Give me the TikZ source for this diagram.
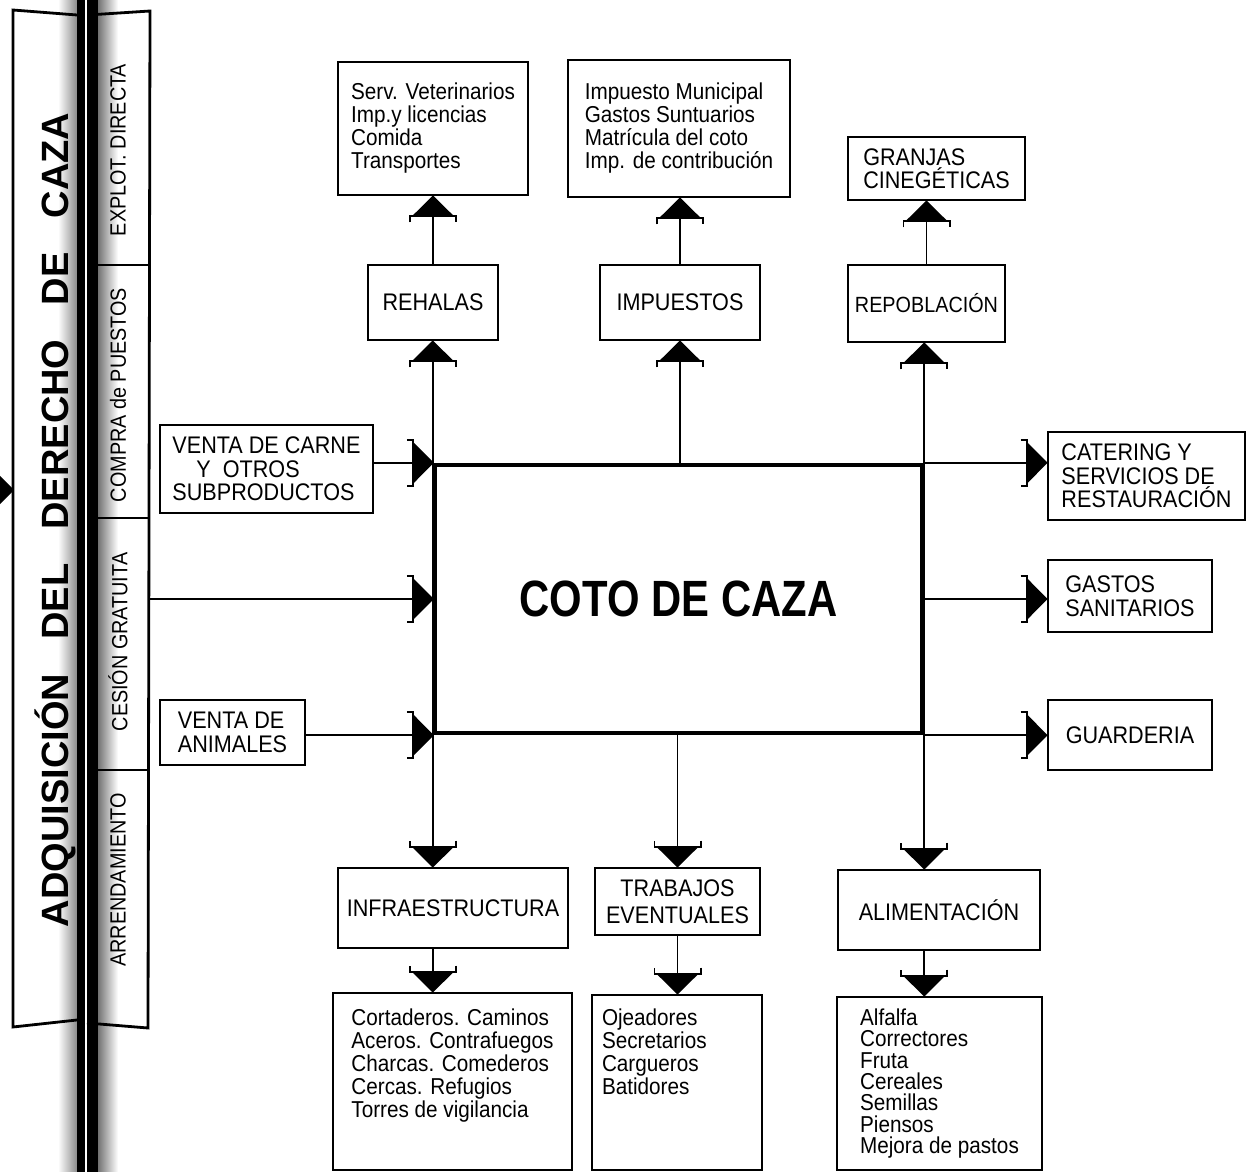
\documentclass[tikz,border=0pt]{standalone}
\usepackage{fontspec}
\setmainfont{Liberation Sans}[FakeStretch=0.9]
\newfontfamily\bannerfont{Liberation Sans}
\newfontfamily\cotofont{Liberation Sans}[FakeStretch=0.82]
\usepackage{tikz}
\usetikzlibrary{arrows.meta, positioning, calc}

\tikzset{
  wedge/.tip={Bracket[width=24pt,length=3pt] Triangle[width=20pt,length=10pt,sep=-0.5pt]},
  flow/.style={line width=0.9pt, -wedge},
  twoway/.style={line width=0.9pt, wedge-wedge},
  labelbox/.style={draw, line width=1.4pt, align=center, inner sep=2pt,
                   font=\fontsize{12}{11.75}\selectfont},
  listbox/.style={draw, line width=1.4pt, align=left, inner sep=2pt,
                  font=\fontsize{11.5}{11.5}\selectfont},
  section/.style={minimum width=30pt, inner sep=0pt,
                  font=\fontsize{11}{12}\selectfont}
}

\begin{document}
\begin{tikzpicture}[x=0.5pt, y=-0.5pt]
\useasboundingbox (0,0) rectangle (1255,1172);

% scanned bar on the left
\shade[left color=white, right color=black!45] (58,0) rectangle (77,1172);
\shade[left color=black!55, right color=white] (98,0) rectangle (118,1172);
\fill (77,0) rectangle (98,1172);
\draw[white, line width=0.6pt] (86,0) -- (86,1172);

% banner and column
\draw[line width=1.4pt] (77,15) -- (13,10) -- (13,1027) -- (77,1020);
\draw[line width=1.4pt] (88,15) -- (150,11) -- (148,1028) -- (87,1023);
\foreach \y in {265,518,770}
  \draw[line width=1.4pt] (88,\y) -- (149,\y);

\node (adq) at (55,520) {\rotatebox{90}{\bannerfont\bfseries\fontsize{19}{20}\selectfont
  ADQUISICIÓN\hspace{0.9em}DEL\hspace{0.9em}DERECHO\hspace{0.9em}DE\hspace{0.9em}CAZA}};
\node[section] (explot) at (118,150) {\rotatebox{90}{EXPLOT. DIRECTA}};
\node[section] (compra) at (118,395) {\rotatebox{90}{COMPRA de PUESTOS}};
\node[section] (cesion) at (118,642) {\rotatebox{90}{CESIÓN GRATUITA}};
\node[section] (arrend) at (118,880) {\rotatebox{90}{ARRENDAMIENTO}};
\coordinate (entry) at (-40,490);
\coordinate (bannerin) at (13,490);

% centre
\node[draw, line width=2.2pt, minimum width=243.5pt, minimum height=134pt,
      font=\cotofont\bfseries\fontsize{25.5}{28}\selectfont] (coto) at (678.5,599)
  {\raisebox{-10pt}{COTO DE CAZA}};

% top
\node[labelbox, minimum width=65pt, minimum height=37.5pt] (rehalas) at (433,302.5) {REHALAS};
\node[listbox, minimum width=95pt, minimum height=66.5pt] (vet) at (433,128.5)
  {Serv. Veterinarios\\Imp.y licencias\\Comida\\Transportes};
\node[labelbox, minimum width=80pt, minimum height=37.5pt] (impuestos) at (680,302.5) {IMPUESTOS};
\node[listbox, minimum width=111pt, minimum height=68.5pt] (tasas) at (679,128.5)
  {Impuesto Municipal\\Gastos Suntuarios\\Matrícula del coto\\Imp. de contribución};
\node[labelbox, minimum width=78.5pt, minimum height=38.5pt,
      font=\fontsize{11}{11.75}\selectfont] (repoblacion) at (926.5,303.5) {REPOBLACIÓN};
\node[labelbox, align=left, minimum width=88.5pt, minimum height=31.5pt] (granjas) at (936.5,168.5)
  {GRANJAS\\CINEGÉTICAS};

% left
\node[labelbox, align=left, minimum width=106.5pt, minimum height=44pt] (carne) at (266.5,469)
  {VENTA DE CARNE\\\hspace*{1em}Y\ \ OTROS\\SUBPRODUCTOS};
\node[labelbox, align=left, minimum width=72.5pt, minimum height=32.5pt] (animales) at (232.5,732.5)
  {VENTA DE\\ANIMALES};

% right
\node[labelbox, align=left, minimum width=98.5pt, minimum height=44pt] (catering) at (1146.5,476)
  {CATERING Y\\SERVICIOS DE\\RESTAURACIÓN};
\node[labelbox, align=left, minimum width=82pt, minimum height=36pt] (gastos) at (1130,596)
  {GASTOS\\SANITARIOS};
\node[labelbox, minimum width=82pt, minimum height=35pt] (guarderia) at (1130,735) {GUARDERIA};

% bottom
\node[labelbox, minimum width=115pt, minimum height=40pt] (infra) at (453,908) {INFRAESTRUCTURA};
\node[labelbox, minimum width=82.5pt, minimum height=33.5pt] (trabajos) at (677.5,901.5)
  {TRABAJOS\\[2pt]EVENTUALES};
\node[labelbox, minimum width=101pt, minimum height=40pt] (alimentacion) at (939,910) {ALIMENTACIÓN};

\node[listbox, minimum width=119.5pt, minimum height=88.5pt, text depth=18pt] (obras) at (452.5,1081.5)
  {Cortaderos. Caminos\\Aceros. Contrafuegos\\Charcas. Comederos\\Cercas. Refugios\\Torres de vigilancia};
\node[listbox, text width=75pt, inner xsep=5pt, minimum height=87.5pt, text depth=65pt] (personal) at (677,1082.5)
  {Ojeadores\\Secretarios\\Cargueros\\Batidores};
\node[listbox, minimum width=102.5pt, minimum height=86.5pt,
      font=\fontsize{11.5}{10.7}\selectfont] (piensos) at (939.5,1083.5)
  {Alfalfa\\Correctores\\Fruta\\Cereales\\Semillas\\Piensos\\Mejora de pastos};

% connectors
\draw[flow] (entry) -- (bannerin);
\draw[twoway] (coto.north west |- rehalas.south) -- (coto.north west |- infra.north);
\draw[twoway] (coto.north east |- repoblacion.south) -- (coto.north east |- alimentacion.north);
\draw[flow] (impuestos.south |- coto.north) -- (impuestos);
\draw[flow] (trabajos.north |- coto.south) -- (trabajos);
\draw[flow] (rehalas) -- (vet);
\draw[flow] (impuestos.north) -- (impuestos.north |- tasas.south);
\draw[flow] (repoblacion.north) -- (repoblacion.north |- granjas.south);
\draw[flow] (coto.south west |- infra.south) -- (coto.south west |- obras.north);
\draw[flow] (trabajos.south) -- (trabajos.south |- personal.north);
\draw[flow] (coto.south east |- alimentacion.south) -- (coto.south east |- piensos.north);

\draw[flow] (carne.east |- coto.north west) -- (coto.north west);
\draw[flow] (cesion.east |- coto.west) -- (coto.west);
\draw[flow] (animales.east |- coto.south west) -- (coto.south west);
\draw[flow] (coto.north east) -- (catering.west |- coto.north east);
\draw[flow] (coto.east) -- (gastos.west |- coto.east);
\draw[flow] (coto.south east) -- (guarderia.west |- coto.south east);
\end{tikzpicture}
\end{document}
